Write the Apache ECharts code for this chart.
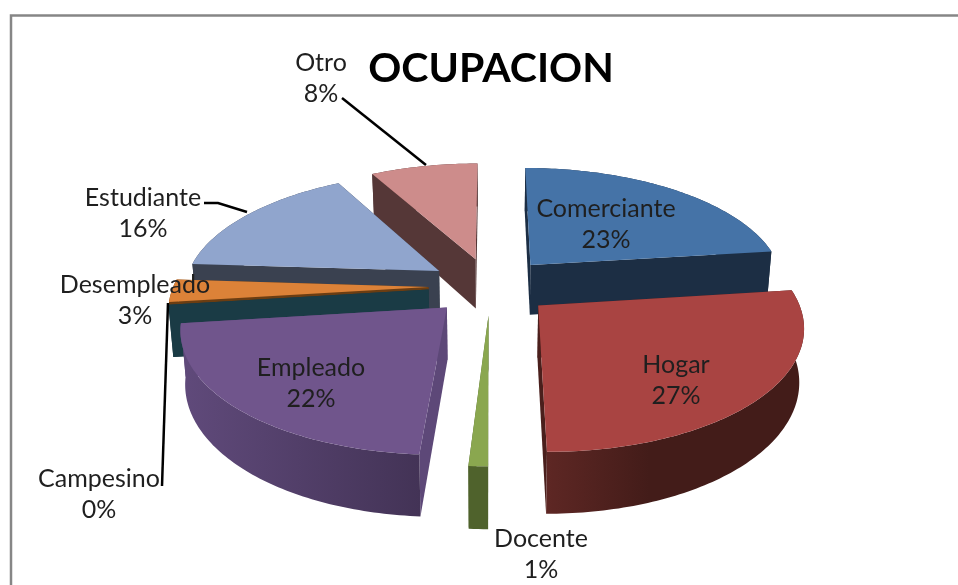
<!DOCTYPE html>
<html>
<head>
<meta charset="utf-8">
<title>OCUPACION</title>
<style>
  html, body { margin: 0; padding: 0; background: #fff; }
  #main { width: 958px; height: 585px; }
</style>
<script src="https://cdn.jsdelivr.net/npm/echarts@6/dist/echarts.min.js"></script>
</head>
<body>
<div id="main"></div>
<script>
// datos
const categories = ['Comerciante', 'Hogar', 'Docente', 'Empleado', 'Campesino', 'Desempleado', 'Estudiante', 'Otro'];
const values = [23, 27, 1, 22, 0, 3, 16, 8];

const topColors = ['#4573a7', '#a94442', '#8aa74f', '#70558c', '#3f96ae', '#dc8238', '#90a5cd', '#cd8c8b'];
const wallColors = ['#1c2e44', '#4a1f1c', '#4f622c', '#5d4878', '#1a3b45', '#6b3d12', '#3a4150', '#553737'];
const rimLeftColors = ['#1c2e44', '#5e2724', '#4f622c', '#604a7b', '#1a3b45', '#6b3d12', '#3a4150', '#553737'];
const rimRightColors = ['#1c2e44', '#431c19', '#4f622c', '#433356', '#1a3b45', '#6b3d12', '#3a4150', '#553737'];
// donde termina el degradado del borde exterior
const rimFadeEnd = [1, 0.4, 1, 1, 1, 1, 1, 1];

// centro de cada etiqueta en pantalla
const labelPos = [[606, 224], [676, 380], [541, 554], [311, 383.5], [99, 494], [135, 300], [143, 213], [321, 78]];

// proyeccion de la torta 3D
const cx = 490.5, cy = 286;
const R = 255, explode = 62, depth = 51;
const tilt = 0.4616, persp = 1680, lean = 0.0003;

function project(X, Y, Z) {
  const f = persp / (persp - Y);
  const s = f * (1 - Z * lean);
  return [cx + X * s, cy + tilt * Y * f + Z * f];
}

const total = values.reduce((a, b) => a + b, 0);
const slices = [];
let acc = 0;
values.forEach((v, i) => {
  const start = acc / total * Math.PI * 2;
  acc += v;
  const end = acc / total * Math.PI * 2;
  const mid = (start + end) / 2;
  slices.push({ i: i, start: start, end: end, ox: Math.sin(mid) * explode, oy: -Math.cos(mid) * explode });
});

// de atras hacia adelante
const drawOrder = slices.slice().sort((a, b) => a.oy - b.oy).map(s => s.i);

function rimPoint(s, t, Z) {
  return project(s.ox + R * Math.sin(t), s.oy - R * Math.cos(t), Z);
}

function renderSlice(params, api) {
  const i = api.value(0);
  const s = slices[i];
  const apexTop = project(s.ox, s.oy, 0);
  const apexBottom = project(s.ox, s.oy, depth);
  const steps = Math.max(2, Math.ceil((s.end - s.start) / (Math.PI / 180)));
  const topRim = [], bottomRim = [];
  for (let k = 0; k <= steps; k++) {
    const t = s.start + (s.end - s.start) * k / steps;
    topRim.push(rimPoint(s, t, 0));
    bottomRim.push(rimPoint(s, t, depth));
  }
  const radialWall = (t) => ({
    type: 'polygon',
    shape: { points: [apexTop, rimPoint(s, t, 0), rimPoint(s, t, depth), apexBottom] },
    style: { fill: wallColors[i] }
  });
  const children = [
    radialWall(s.start),
    radialWall(s.end),
    {
      type: 'polygon',
      shape: { points: topRim.concat(bottomRim.slice().reverse()) },
      style: {
        fill: new echarts.graphic.LinearGradient(0, 0, 1, 0, [
          { offset: 0, color: rimLeftColors[i] },
          { offset: rimFadeEnd[i], color: rimRightColors[i] },
          { offset: 1, color: rimRightColors[i] }
        ])
      }
    },
    {
      type: 'polygon',
      shape: { points: [apexTop].concat(topRim) },
      style: { fill: topColors[i] }
    },
    {
      type: 'text',
      z2: 100,
      style: {
        text: categories[i] + '\n' + api.value(1) + '%',
        x: labelPos[i][0],
        y: labelPos[i][1],
        align: 'center',
        verticalAlign: 'middle',
        font: '25px Lato',
        lineHeight: 31,
        fill: '#1f1f1f'
      }
    }
  ];
  return { type: 'group', children: children };
}

const leaderLine = (points) => ({
  type: 'polyline',
  z: 10,
  shape: { points: points },
  style: { stroke: '#000', lineWidth: 2.5, fill: 'none' }
});

var myChart = echarts.init(document.getElementById('main'));
var option = {
  animation: false,
  backgroundColor: '#fff',
  title: {
    text: 'OCUPACION',
    left: 486,
    top: 43,
    textAlign: 'center',
    textStyle: { fontFamily: 'Lato', fontWeight: 'bold', fontSize: 41, color: '#000' }
  },
  graphic: [
    // marco del grafico
    { type: 'polyline', shape: { points: [[11, 585], [11, 15.5], [958, 15.5]] }, style: { stroke: '#868686', lineWidth: 2.5, fill: 'none' } },
    leaderLine([[342, 98], [426, 165]]),
    leaderLine([[204, 203], [218, 203], [247, 212]]),
    leaderLine([[168, 303], [162, 486]])
  ],
  series: [{
    type: 'custom',
    coordinateSystem: 'none',
    renderItem: renderSlice,
    clip: false,
    silent: true,
    data: drawOrder.map(i => [i, values[i]])
  }]
};
myChart.setOption(option);
</script>
</body>
</html>
